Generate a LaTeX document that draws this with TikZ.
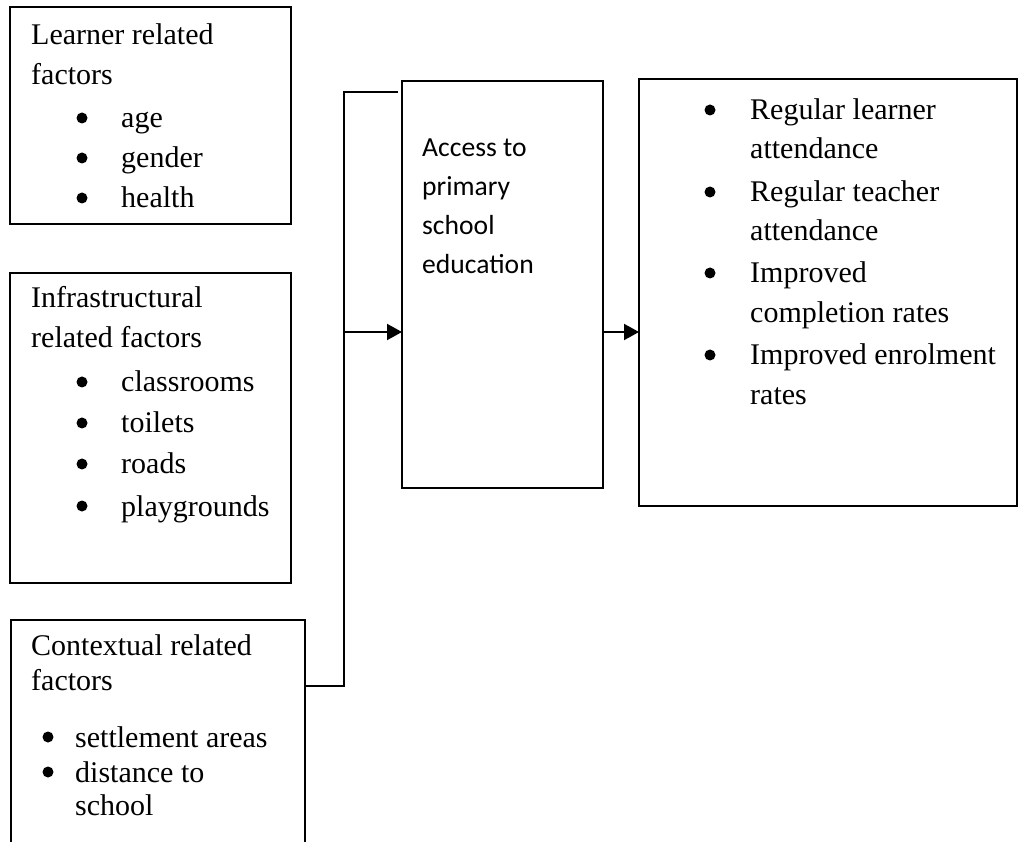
\documentclass[tikz,border=0pt]{standalone}
\usepackage{fontspec}
\setmainfont{Liberation Serif}
\newfontfamily\calib{Carlito}
\usetikzlibrary{arrows.meta}
\begin{document}
\begin{tikzpicture}[x=1pt,y=-1pt,
  box/.style={draw,line width=2pt,outer sep=0pt,inner sep=0pt,anchor=north west},
  txt/.style={inner sep=0pt,anchor=base west,font=\fontsize{30}{36}\selectfont},
  bul/.style={circle,fill,inner sep=0pt,minimum size=11pt},
  ctxt/.style={inner sep=0pt,anchor=base west,font=\calib\fontsize{27.6}{33}\selectfont},
  conn/.style={line width=2pt},
  arr/.style={line width=2pt,-{Triangle[length=15pt,width=16pt]}}]
\useasboundingbox (0,0) rectangle (1021,842);
\clip (0,0) rectangle (1021,842);
\fill[white] (0,0) rectangle (1021,842);
% boxes
\node[box,minimum width=281pt,minimum height=217pt] (box1) at (10,7) {};
\node[box,minimum width=281pt,minimum height=310pt] (box2) at (10,273) {};
\node[box,minimum width=294pt,minimum height=260pt] (box3) at (11,620) {};
\node[box,minimum width=201pt,minimum height=407pt] (mid) at (402,81) {};
\node[box,minimum width=378pt,minimum height=427pt] (out) at (639,79) {};
% box 1 text
\node[txt] (t11) at (31,45) {Learner related};
\node[txt] (t12) at (31,85) {factors};
\node[bul] (b13) at (82,118) {};
\node[txt] (t13) at (121,128) {age};
\node[bul] (b14) at (82,158) {};
\node[txt] (t14) at (121,168) {gender};
\node[bul] (b15) at (82,198) {};
\node[txt] (t15) at (121,208) {health};
% box 2 text
\node[txt] (t21) at (31,308) {Infrastructural};
\node[txt] (t22) at (31,348) {related factors};
\node[bul] (b23) at (82,382) {};
\node[txt] (t23) at (121,392) {classrooms};
\node[bul] (b24) at (82,423) {};
\node[txt] (t24) at (121,433) {toilets};
\node[bul] (b25) at (82,464) {};
\node[txt] (t25) at (121,474) {roads};
\node[bul] (b26) at (82,506) {};
\node[txt] (t26) at (121,516) {playgrounds};
% box 3 text
\node[txt] (t31) at (31,655) {Contextual related};
\node[txt] (t32) at (31,690) {factors};
\node[bul] (b33) at (48,737) {};
\node[txt] (t33) at (75,747) {settlement areas};
\node[bul] (b34) at (48,772) {};
\node[txt] (t34) at (75,782) {distance to};
\node[txt] (t35) at (75,815) {school};
% middle text
\node[ctxt] (m1) at (422,157) {Access to};
\node[ctxt] (m2) at (422,196) {primary};
\node[ctxt] (m3) at (422,235) {school};
\node[ctxt] (m4) at (422,274) {education};
% output text
\node[bul] (ob1) at (710,110) {};
\node[txt] (o1) at (750,120) {Regular learner};
\node[txt] (o2) at (750,159) {attendance};
\node[bul] (ob3) at (710,192) {};
\node[txt] (o3) at (750,202) {Regular teacher};
\node[txt] (o4) at (750,241) {attendance};
\node[bul] (ob5) at (710,273) {};
\node[txt] (o5) at (750,283) {Improved};
\node[txt] (o6) at (750,323) {completion rates};
\node[bul] (ob7) at (710,355) {};
\node[txt] (o7) at (750,365) {Improved enrolment};
\node[txt] (o8) at (750,405) {rates};
% connectors
\coordinate (jt) at (398,92);
\coordinate (j1) at (344,92);
\coordinate (ja) at (344,332);
\coordinate (j2) at (344,686);
\draw[conn] (jt) -- (j1) -- (j2) -- (box3.east |- j2);
\draw[arr] (ja) -- (ja -| mid.west);
\draw[arr] (ja -| mid.east) -- (ja -| out.west);
\end{tikzpicture}
\end{document}
